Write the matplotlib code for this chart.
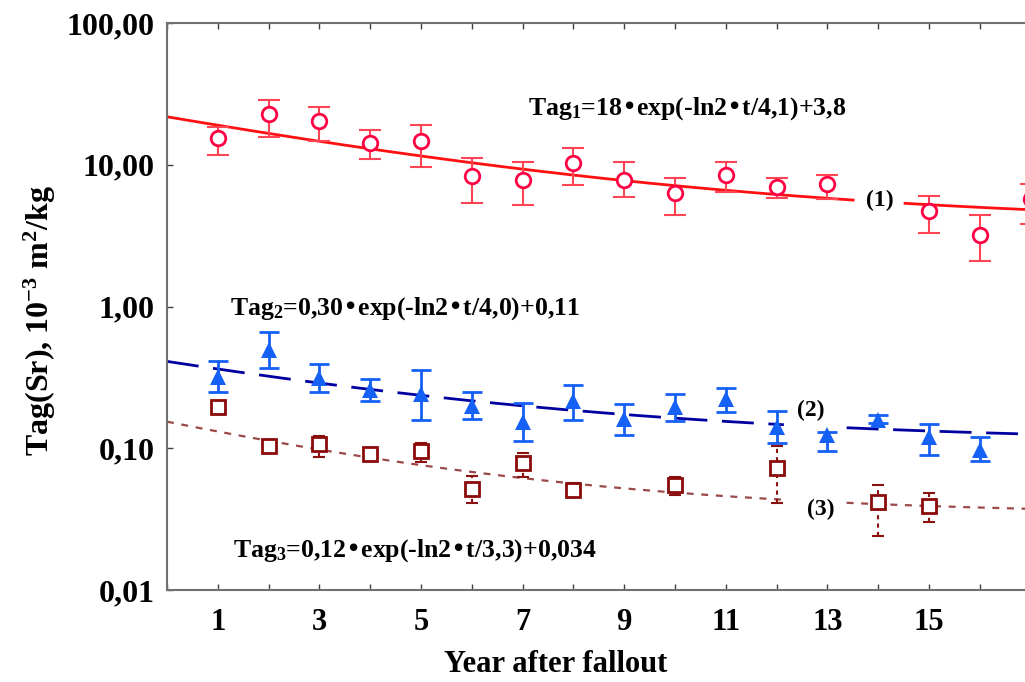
import numpy as np
import matplotlib
matplotlib.use("Agg")
import matplotlib.pyplot as plt

plt.rcParams['font.family'] = ['Liberation Serif', 'DejaVu Serif']
plt.rcParams['font.weight'] = 'bold'
plt.rcParams['mathtext.default'] = 'regular'
plt.rcParams['lines.scale_dashes'] = False

# ---- data ----
t1 = [1, 2, 3, 4, 5, 6, 7, 8, 9, 10, 11, 12, 13, 15, 16, 17]
y1 = [15.5, 22.8, 20.2, 14.3, 14.6, 8.3, 7.8, 10.3, 7.8, 6.3, 8.5, 7.0, 7.3, 4.7, 3.2, 5.7]
hi1 = [18.5, 28.7, 25.4, 17.6, 19.1, 11.1, 10.4, 13.2, 10.4, 8.0, 10.4, 8.0, 8.5, 6.0, 4.4, 7.3]
lo1 = [11.7, 15.8, 14.8, 11.0, 9.6, 5.4, 5.2, 7.2, 5.9, 4.4, 6.4, 5.8, 5.7, 3.3, 2.1, 3.8]

t2 = [1, 2, 3, 4, 5, 6, 7, 8, 9, 10, 11, 12, 13, 14, 15, 16]
y2 = [0.318, 0.49, 0.315, 0.259, 0.243, 0.198, 0.153, 0.215, 0.162, 0.195, 0.224, 0.141, 0.124, 0.157, 0.120, 0.097]
hi2 = [0.41, 0.66, 0.39, 0.306, 0.355, 0.25, 0.21, 0.28, 0.204, 0.24, 0.268, 0.183, 0.13, 0.172, 0.148, 0.12]
lo2 = [0.25, 0.366, 0.25, 0.216, 0.158, 0.162, 0.112, 0.159, 0.125, 0.155, 0.181, 0.109, 0.095, 0.15, 0.089, 0.081]

t3 = [1, 2, 3, 4, 5, 6, 7, 8, 10, 12, 14, 15]
y3 = [0.195, 0.104, 0.108, 0.091, 0.096, 0.052, 0.079, 0.051, 0.055, 0.072, 0.042, 0.039]
hi3 = [0.205, 0.11, 0.123, 0.095, 0.109, 0.064, 0.093, 0.057, 0.063, 0.104, 0.055, 0.048]
lo3 = [0.185, 0.098, 0.087, 0.087, 0.080, 0.041, 0.063, 0.047, 0.047, 0.041, 0.024, 0.030]

# fit parameters (A, T_half, C)
fit1 = (18.0, 4.1, 3.8)
fit2 = (0.30, 4.0, 0.11)
fit3 = (0.12, 3.3, 0.034)
gap1 = (13.54, 14.5)
gap2 = (12.17, 13.35)
gap3 = (12.2, 13.35)

xticks = [1, 3, 5, 7, 9, 11, 13, 15]
yticks = [0.01, 0.1, 1, 10, 100]
yticklabels = ['0,01', '0,10', '1,00', '10,00', '100,00']

eq1 = 'Tag$_1$=18•exp(-ln2•t/4,1)+3,8'
eq2 = 'Tag$_2$=0,30•exp(-ln2•t/4,0)+0,11'
eq3 = 'Tag$_3$=0,12•exp(-ln2•t/3,3)+0,034'

W, H = 1025, 682
fig = plt.figure(figsize=(W / 100, H / 100), dpi=100)
ax = fig.add_axes([167 / W, (H - 590) / H, (1030.6 - 167) / W, (590 - 23) / H])


def fitcurve(p, gap):
    t = np.linspace(0, 17, 400)
    y = p[0] * np.exp(-np.log(2) * t / p[1]) + p[2]
    y[(t > gap[0]) & (t < gap[1])] = np.nan
    return t, y


def err(y, lo, hi):
    y = np.array(y); lo = np.array(lo); hi = np.array(hi)
    return [y - lo, hi - y]


# fit lines
tt, yy = fitcurve(fit1, gap1)
ax.plot(tt, yy, color='#FF1010', lw=2.0, zorder=2)
tt, yy = fitcurve(fit2, gap2)
ax.plot(tt, yy, color='#0000A0', lw=2.0, dashes=(23, 10.5), zorder=2)
tt, yy = fitcurve(fit3, gap3)
ax.plot(tt, yy, color='#9A4848', lw=1.6, dashes=(5, 5.5), zorder=2)

# series 1
ax.errorbar(t1, y1, yerr=err(y1, lo1, hi1), fmt='none', ecolor='#FF4455',
            elinewidth=1.5, capsize=8, capthick=1.5, zorder=3, clip_on=False)
ax.plot(t1, y1, 'o', mfc='white', mec='#FF0044', ms=10.5, mew=2.0, zorder=4, clip_on=False)

# series 2
ax.errorbar(t2, y2, yerr=err(y2, lo2, hi2), fmt='none', ecolor='#1560F5',
            elinewidth=2.0, capsize=7, capthick=2.0, zorder=3)
ax.plot(t2, y2, '^', color='#1560F5', ms=11, mew=0, zorder=4)

# series 3
eb = ax.errorbar(t3, y3, yerr=err(y3, lo3, hi3), fmt='none', ecolor='#8B1010',
                 elinewidth=1.5, capsize=4, capthick=1.5, zorder=3)
for lc in eb[2]:
    lc.set_linestyle((0, (3, 3)))
ax.plot(t3, y3, 's', mfc='white', mec='#8B0A0A', ms=9.5, mew=2.0, zorder=4)

ax.set_yscale('log')
ax.set_xlim(0, 17)
ax.set_ylim(0.01, 100)
ax.set_xticks(range(0, 18))
ax.set_xticklabels(['' if i not in xticks else str(i) for i in range(0, 18)])
ax.set_yticks(yticks)
ax.set_yticklabels(yticklabels)
ax.yaxis.set_minor_locator(matplotlib.ticker.NullLocator())
ax.tick_params(axis='x', direction='in', top=True, length=4, width=1, color='#404040',
               labelsize=22, pad=13)
ax.tick_params(axis='y', direction='in', right=True, length=4, width=1, color='#404040',
               labelsize=23, pad=9)
for s in ax.spines.values():
    s.set_color('#707070')
    s.set_linewidth(1.5)
for lab in ax.get_xticklabels() + ax.get_yticklabels():
    lab.set_fontweight('bold')

ax.set_xlabel('Year after fallout', fontsize=22, fontweight='bold')
ax.xaxis.set_label_coords((556 - 167) / (1030.6 - 167), (590 - 650) / 567)
fig.text(40 / W, 1 - 321 / H, 'Tag(Sr), 10$^{-3}$ m$^2$/kg', rotation=90,
         ha='center', va='center', fontsize=23, fontweight='bold')

fig.text(528 / W, 1 - 115 / H, eq1, fontsize=18.5, fontweight='bold', va='baseline')
fig.text(230 / W, 1 - 315 / H, eq2, fontsize=18.5, fontweight='bold', va='baseline')
fig.text(233 / W, 1 - 557 / H, eq3, fontsize=18.5, fontweight='bold', va='baseline')

fig.text(880 / W, 1 - 200 / H, '(1)', fontsize=17, fontweight='bold', ha='center', va='center')
fig.text(811 / W, 1 - 410 / H, '(2)', fontsize=17, fontweight='bold', ha='center', va='center')
fig.text(821 / W, 1 - 509 / H, '(3)', fontsize=17, fontweight='bold', ha='center', va='center')

fig.savefig('out.png', dpi=100)
